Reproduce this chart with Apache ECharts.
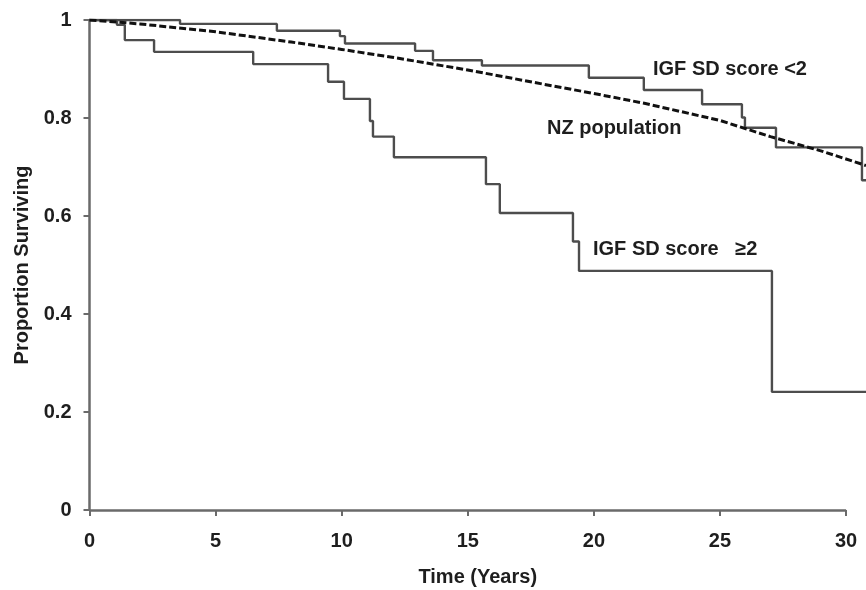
<!DOCTYPE html>
<html>
<head>
<meta charset="utf-8">
<script src="https://cdn.jsdelivr.net/npm/echarts@6/dist/echarts.min.js"></script>
<style>
html,body{margin:0;padding:0;background:#fff;}
#chart{width:866px;height:590px;}
</style>
</head>
<body>
<div id="chart"></div>
<script>
// IGF SD score < 2 (Kaplan-Meier)
var lowTimes = [0, 3.59, 7.43, 9.93, 10.13, 12.91, 13.62, 15.56, 19.80, 21.98, 24.29, 25.87, 25.99, 27.22, 30.63, 30.79];
var lowSurv  = [1, 0.992, 0.978, 0.967, 0.952, 0.937, 0.918, 0.907, 0.882, 0.857, 0.828, 0.801, 0.780, 0.740, 0.673, 0.673];
// IGF SD score >= 2 (Kaplan-Meier)
var highTimes = [0, 1.09, 1.40, 2.56, 6.49, 9.46, 10.09, 11.12, 11.24, 12.07, 15.72, 16.27, 19.17, 19.41, 27.06, 30.79];
var highSurv  = [1, 0.990, 0.959, 0.935, 0.910, 0.874, 0.839, 0.794, 0.762, 0.720, 0.665, 0.606, 0.548, 0.488, 0.241, 0.241];
// NZ population expected survival
var nzTimes = [0, 2, 5, 8, 10, 12, 15, 18, 20, 22, 25, 27, 29, 30.79];
var nzSurv  = [1, 0.992, 0.976, 0.955, 0.940, 0.924, 0.898, 0.869, 0.850, 0.830, 0.795, 0.762, 0.733, 0.703];
// axis ticks
var xTicks = [0, 5, 10, 15, 20, 25, 30];
var yTicks = [0, 0.2, 0.4, 0.6, 0.8, 1];
var xEnd = 30.79; // plotted curves run past the last labelled tick

function pairs(t, v) { return t.map(function (x, i) { return [x, v[i]]; }); }

var FONT = "'Liberation Sans', Arial, sans-serif";
var axisColor = '#6a6a6a';
var textColor = '#1e1e1e';
var chart = echarts.init(document.getElementById('chart'));
chart.setOption({
  animation: false,
  backgroundColor: '#fff',
  grid: { left: 89.5, right: 0, top: 20, bottom: 80, containLabel: false, outerBoundsMode: 'none' },
  xAxis: {
    type: 'value', min: xTicks[0], max: xEnd,
    name: 'Time (Years)', nameLocation: 'middle', nameGap: 57,
    nameTextStyle: { fontFamily: FONT, fontWeight: 'bold', fontSize: 20, color: textColor },
    axisLine: { show: false },
    axisTick: { show: true, customValues: xTicks, length: 6, lineStyle: { color: axisColor, width: 2 } },
    axisLabel: { customValues: xTicks, margin: 21, fontFamily: FONT, fontWeight: 'bold', fontSize: 20, color: textColor },
    splitLine: { show: false }
  },
  yAxis: {
    type: 'value', min: yTicks[0], max: yTicks[yTicks.length - 1], interval: 0.2,
    name: 'Proportion Surviving', nameLocation: 'middle', nameGap: 57,
    nameTextStyle: { fontFamily: FONT, fontWeight: 'bold', fontSize: 20, color: textColor },
    axisLine: { show: true, lineStyle: { color: axisColor, width: 2.5 } },
    axisTick: { show: true, length: 6, lineStyle: { color: axisColor, width: 2 } },
    axisLabel: { margin: 18, fontFamily: FONT, fontWeight: 'bold', fontSize: 20, color: textColor },
    splitLine: { show: false }
  },
  series: [
    {
      type: 'line', name: 'IGF SD score <2', step: 'end', symbol: 'none',
      data: pairs(lowTimes, lowSurv),
      lineStyle: { color: '#4d4d4d', width: 2.4 }, z: 3,
      markLine: {
        silent: true, symbol: 'none', label: { show: false },
        lineStyle: { color: axisColor, width: 2.5, type: 'solid' },
        data: [[{ coord: [xTicks[0], yTicks[0]] }, { coord: [xTicks[xTicks.length - 1], yTicks[0]] }]]
      }
    },
    {
      type: 'line', name: 'IGF SD score >=2', step: 'end', symbol: 'none',
      data: pairs(highTimes, highSurv),
      lineStyle: { color: '#4d4d4d', width: 2.4 }, z: 3
    },
    {
      type: 'line', name: 'NZ population', symbol: 'none', smooth: false,
      data: pairs(nzTimes, nzSurv),
      lineStyle: { color: '#111', width: 3, type: [7, 3] }, z: 4
    }
  ],
  graphic: [
    { type: 'text', left: 653, top: 59, style: { text: 'IGF SD score <2', fontFamily: FONT, fontWeight: 'bold', fontSize: 20, fill: textColor } },
    { type: 'text', left: 547, top: 118, style: { text: 'NZ population', fontFamily: FONT, fontWeight: 'bold', fontSize: 20, fill: textColor } },
    { type: 'text', left: 593, top: 239, style: { text: 'IGF SD score   \u22652', fontFamily: FONT, fontWeight: 'bold', fontSize: 20, fill: textColor } }
  ]
});
</script>
</body>
</html>
